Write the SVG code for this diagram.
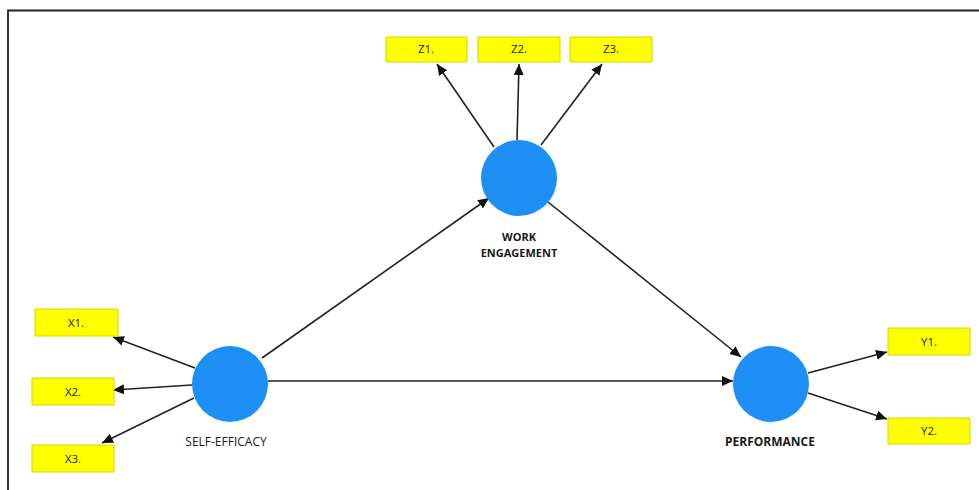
<svg xmlns="http://www.w3.org/2000/svg" width="979" height="490" viewBox="0 0 979 490">
  <style>
    .ind rect { fill: #ffff00; stroke: #d6d600; stroke-width: 1; }
    .ind text { font-family: "Open Sans", "Liberation Sans", sans-serif; font-size: 11.5px; fill: #1a1a1a; text-anchor: middle; }
    .lat circle { fill: #1e8ff5; }
    .lat text { font-family: "Open Sans", "Liberation Sans", sans-serif; font-size: 12px; fill: #1a1a1a; text-anchor: middle; }
    .lat text.b { font-weight: bold; }
    .lat text.s { font-size: 11px; }
    .edges line { stroke: #222; stroke-width: 1.6; marker-end: url(#head); }
  </style>
  <defs>
    <marker id="head" markerUnits="userSpaceOnUse" markerWidth="12" markerHeight="12" viewBox="0 0 12 12" refX="11" refY="6" orient="auto">
      <path d="M0,1 L11,6 L0,11 Z" fill="#111"/>
    </marker>
  </defs>

  <rect width="979" height="490" fill="#ffffff"/>
  <!-- frame -->
  <path d="M8,490 V10.5 H979" fill="none" stroke="#222" stroke-width="1.8"/>

  <!-- connectors -->
  <g id="connectors" class="edges">
    <line x1="494" y1="147" x2="437" y2="64"/>
    <line x1="517" y1="140" x2="519" y2="64"/>
    <line x1="541" y1="145" x2="602" y2="64"/>
    <line x1="195" y1="368" x2="113" y2="337"/>
    <line x1="192" y1="385" x2="113" y2="390"/>
    <line x1="194" y1="398" x2="102" y2="443"/>
    <line x1="808" y1="373" x2="887" y2="352"/>
    <line x1="808" y1="393" x2="887" y2="419"/>
    <line x1="262" y1="358" x2="489" y2="198"/>
    <line x1="268" y1="381" x2="733" y2="381"/>
    <line x1="548" y1="202" x2="741" y2="357"/>
  </g>

  <!-- latent constructs -->
  <g id="work-engagement" class="lat">
    <circle cx="519" cy="178" r="38"/>
    <text class="b s" x="519" y="241">WORK</text>
    <text class="b s" x="519" y="257">ENGAGEMENT</text>
  </g>
  <g id="self-efficacy" class="lat">
    <circle cx="230" cy="384" r="38"/>
    <text x="226" y="446">SELF-EFFICACY</text>
  </g>
  <g id="performance" class="lat">
    <circle cx="771" cy="384" r="38"/>
    <text class="b" x="770" y="446">PERFORMANCE</text>
  </g>

  <!-- indicators -->
  <g id="z1" class="ind"><rect x="386" y="37" width="81" height="25"/><text x="426" y="53">Z1.</text></g>
  <g id="z2" class="ind"><rect x="478" y="37" width="82" height="25"/><text x="519" y="53">Z2.</text></g>
  <g id="z3" class="ind"><rect x="570" y="37" width="82" height="25"/><text x="611" y="53">Z3.</text></g>
  <g id="x1" class="ind"><rect x="35" y="309" width="83" height="27"/><text x="76" y="327">X1.</text></g>
  <g id="x2" class="ind"><rect x="32" y="378" width="82" height="27"/><text x="73" y="396">X2.</text></g>
  <g id="x3" class="ind"><rect x="32" y="445" width="82" height="27"/><text x="73" y="463">X3.</text></g>
  <g id="y1" class="ind"><rect x="888" y="328" width="82" height="27"/><text x="929" y="346">Y1.</text></g>
  <g id="y2" class="ind"><rect x="888" y="418" width="82" height="26"/><text x="929" y="435">Y2.</text></g>
</svg>
